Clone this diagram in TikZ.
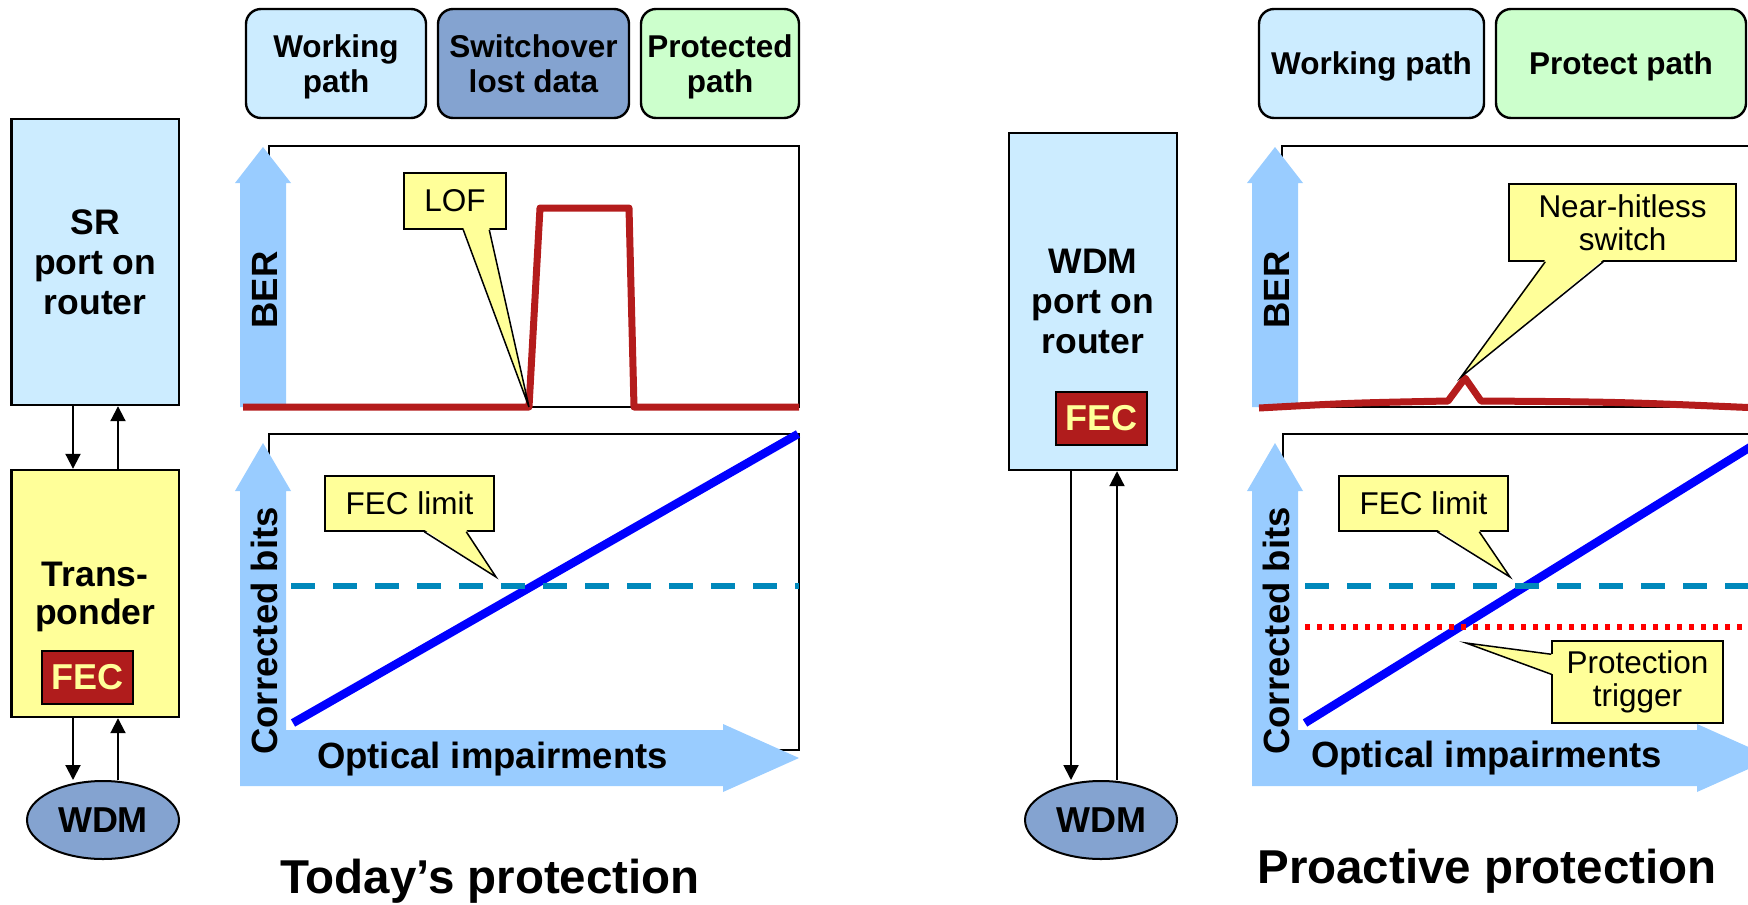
\documentclass[tikz,border=0pt]{standalone}
\usepackage{fontspec}
\setmainfont{Liberation Sans}
\usetikzlibrary{arrows.meta,calc,shapes.geometric}

\definecolor{boxblue}{HTML}{CCECFF}
\definecolor{wdmblue}{HTML}{84A3D0}
\definecolor{boxgreen}{HTML}{CCFFCC}
\definecolor{noteyellow}{HTML}{FFFF99}
\definecolor{fecred}{HTML}{B01C1C}
\definecolor{berred}{HTML}{B41C1C}
\definecolor{axisblue}{HTML}{99CCFF}
\definecolor{limitteal}{HTML}{0088BB}

\tikzset{
  pathbox/.style={draw, line width=1.2pt, rounded corners=7.5pt, minimum height=54.5pt,
    inner sep=0pt, text depth=0pt, align=center, font=\fontsize{15.75}{17.5}\selectfont\bfseries},
  unitbox/.style={draw, line width=1.2pt, minimum width=83.75pt, inner sep=0pt,
    align=center, font=\fontsize{17.75}{20}\selectfont\bfseries},
  fecbox/.style={draw, line width=1.2pt, fill=fecred, text=noteyellow, minimum width=45.5pt,
    minimum height=26.5pt, inner sep=0pt, font=\fontsize{18}{18}\selectfont\bfseries},
  wdmnode/.style={ellipse, draw, line width=1pt, fill=wdmblue, minimum width=76pt,
    minimum height=39pt, inner sep=0pt, font=\fontsize{18}{18}\selectfont\bfseries},
  link/.style={line width=1pt, -{Triangle[width=7.5pt,length=7.5pt]}},
  plotframe/.style={draw, line width=1pt},
  axisfill/.style={fill=axisblue},
  axislabel/.style={inner sep=0pt, font=\fontsize{18.25}{18.25}\selectfont\bfseries},
  note/.style={draw, line width=0.75pt, fill=noteyellow, inner sep=0pt, align=center,
    font=\fontsize{15.75}{16.5}\selectfont},
  wedge/.style={draw, line width=0.75pt, line join=miter},
  berline/.style={draw=berred, line width=3.5pt, line join=round},
  fecline/.style={draw=blue, line width=4.2pt},
  limitline/.style={draw=limitteal, line width=2.7pt, dash pattern=on 12pt off 9pt},
  triggerline/.style={draw=red, line width=3pt, dash pattern=on 2.5pt off 3.5pt},
  heading/.style={inner sep=0pt, font=\fontsize{23.75}{23.75}\selectfont\bfseries},
}

\begin{document}
\begin{tikzpicture}[x=0.5pt,y=-0.5pt]
\useasboundingbox (0,0) rectangle (1748,904);

% ---------- plot frames ----------
\draw[plotframe] (269,146) rectangle (799,407);
\draw[plotframe] (269,434) rectangle (799,750);
\draw[plotframe] (1282,146) rectangle (1800,407);
\draw[plotframe] (1283,434) rectangle (1800,750);

% ---------- fat axis arrows ----------
\fill[axisfill] (240,407) -- (240,183) -- (235,183) -- (263,147) -- (291,183) -- (286,183) -- (286,407) -- cycle;
\fill[axisfill] (240,786) -- (240,491) -- (235,491) -- (263,443) -- (291,491) -- (286,491) -- (286,730)
  -- (723,730) -- (723,724) -- (799,758) -- (723,792) -- (723,786) -- cycle;
\fill[axisfill] (1252,407) -- (1252,183) -- (1247,183) -- (1275,147) -- (1303,183) -- (1298,183) -- (1298,407) -- cycle;
\fill[axisfill] (1252,786) -- (1252,491) -- (1247,491) -- (1275,443) -- (1303,491) -- (1298,491) -- (1298,730)
  -- (1697,730) -- (1697,724) -- (1773,758) -- (1697,792) -- (1697,786) -- cycle;

% ---------- curves ----------
\draw[fecline] (293,723) -- (798,434);
\draw[fecline] (1305,723) -- (1760,441);
\draw[limitline] (291,586) -- (799,586);
\draw[limitline] (1305,586) -- (1760,586);
\draw[triggerline] (1305,627) -- (1760,627);
\draw[berline] (243,407) -- (529,407) -- (540,208) -- (629,208) -- (634,407) -- (799,407);
\draw[berline] (1259,408) .. controls (1350,403) .. (1448,401) -- (1465,378) -- (1481,401)
  .. controls (1620,402) .. (1760,408);

% ---------- axis labels ----------
\node[axislabel, rotate=90, anchor=base] (berA) at (277,290) {BER};
\node[axislabel, rotate=90, anchor=base] (cbA) at (277,631) {Corrected bits};
\node[axislabel, anchor=base] (oiA) at (492.5,768) {Optical impairments};
\node[axislabel, rotate=90, anchor=base] (berB) at (1289,290) {BER};
\node[axislabel, rotate=90, anchor=base] (cbB) at (1289,631) {Corrected bits};
\node[axislabel, anchor=base] (oiB) at (1486.5,767) {Optical impairments};

% ---------- callouts ----------
\node[note, minimum width=51pt, minimum height=28pt] (lof) at (455,201) {LOF};
\coordinate (lofA) at ($(lof.south west)+(60,0)$);
\coordinate (lofB) at ($(lof.south west)+(86,0)$);
\coordinate (lofT) at (529,407);
\fill[noteyellow] ($(lofA)+(0,-2)$) -- (lofT) -- ($(lofB)+(0,-2)$) -- cycle;
\draw[wedge] (lofA) -- (lofT) -- (lofB);

\node[note, minimum width=84.5pt, minimum height=27.5pt] (limA) at (409.5,503.5) {FEC limit};
\coordinate (limAa) at ($(limA.south west)+(100,0)$);
\coordinate (limAb) at ($(limA.south west)+(142,0)$);
\coordinate (limAt) at (496,577);
\fill[noteyellow] ($(limAa)+(0,-2)$) -- (limAt) -- ($(limAb)+(0,-2)$) -- cycle;
\draw[wedge] (limAa) -- (limAt) -- (limAb);

\node[note, minimum width=113.5pt, minimum height=38.5pt] (hit) at (1622.5,222.5) {Near-hitless\\switch};
\coordinate (hitA) at ($(hit.south west)+(37,0)$);
\coordinate (hitB) at ($(hit.south west)+(95,0)$);
\coordinate (hitT) at (1461,377);
\fill[noteyellow] ($(hitA)+(0,-2)$) -- (hitT) -- ($(hitB)+(0,-2)$) -- cycle;
\draw[wedge] (hitA) -- (hitT) -- (hitB);

\node[note, minimum width=84.5pt, minimum height=27.5pt] (limB) at (1423.5,503.5) {FEC limit};
\coordinate (limBa) at ($(limB.south west)+(99,0)$);
\coordinate (limBb) at ($(limB.south west)+(141,0)$);
\coordinate (limBt) at (1510,577);
\fill[noteyellow] ($(limBa)+(0,-2)$) -- (limBt) -- ($(limBb)+(0,-2)$) -- cycle;
\draw[wedge] (limBa) -- (limBt) -- (limBb);

\node[note, minimum width=85.5pt, minimum height=41pt] (trig) at (1637.5,682) {Protection\\trigger};
\coordinate (trigA) at ($(trig.north west)+(0,14)$);
\coordinate (trigB) at ($(trig.north west)+(0,34)$);
\coordinate (trigT) at (1466,643);
\fill[noteyellow] ($(trigA)+(2,0)$) -- (trigT) -- ($(trigB)+(2,0)$) -- cycle;
\draw[wedge] (trigA) -- (trigT) -- (trigB);

% ---------- path legend boxes ----------
\node[pathbox, fill=boxblue, minimum width=90pt] (wpA) at (336,63.5) {Working\\path};
\node[pathbox, fill=wdmblue, minimum width=95.5pt] (soA) at (533.5,63.5) {Switchover\\lost data};
\node[pathbox, fill=boxgreen, minimum width=79pt] (ppA) at (720,63.5) {Protected\\path};
\node[pathbox, fill=boxblue, minimum width=112.5pt] (wpB) at (1371.5,63.5) {Working path};
\node[pathbox, fill=boxgreen, minimum width=125pt] (ppB) at (1621,63.5) {Protect path};

% ---------- today's set-up: router, transponder, WDM ----------
\node[unitbox, fill=boxblue, minimum height=143pt] (sr) at (95.25,262) {SR\\port on\\router};
\node[unitbox, fill=noteyellow, minimum height=123.5pt, text depth=0pt,
  font=\fontsize{17.75}{19}\selectfont\bfseries] (tr) at (95.25,593.5) {Trans-\\ponder};
\node[fecbox] (fecA) at (87.5,677.5) {FEC};
\node[wdmnode] (wdmA) at (103,820) {WDM};

\coordinate (srL) at ($(sr.south)+(-22.25,0)$);
\coordinate (srR) at ($(sr.south)+(22.75,0)$);
\coordinate (trL) at ($(tr.south)+(-22.25,0)$);
\coordinate (trR) at ($(tr.south)+(22.75,0)$);
\draw[link] (srL) -- (srL |- tr.north);
\draw[link] (srR |- tr.north) -- (srR);
\draw[link] (trL) -- (trL |- wdmA.north);
\draw[link] (trR |- wdmA.north) -- (trR);

% ---------- proactive set-up: WDM port on router ----------
\node[unitbox, fill=boxblue, minimum height=168.5pt] (wp) at (1093,301.5) {WDM\\port on\\router};
\node[fecbox] (fecB) at (1101.5,418.5) {FEC};
\node[wdmnode] (wdmB) at (1101,820) {WDM};

\coordinate (wpL) at ($(wp.south)+(-22,0)$);
\coordinate (wpR) at ($(wp.south)+(24,0)$);
\draw[link] (wpL) -- (wpL |- wdmB.north);
\draw[link] (wpR |- wdmB.north) -- (wpR);

% ---------- headings ----------
\node[heading, anchor=base] (titleA) at (490,893) {Today’s protection};
\node[heading, anchor=base] (titleB) at (1487,883) {Proactive protection};
\end{tikzpicture}
\end{document}
